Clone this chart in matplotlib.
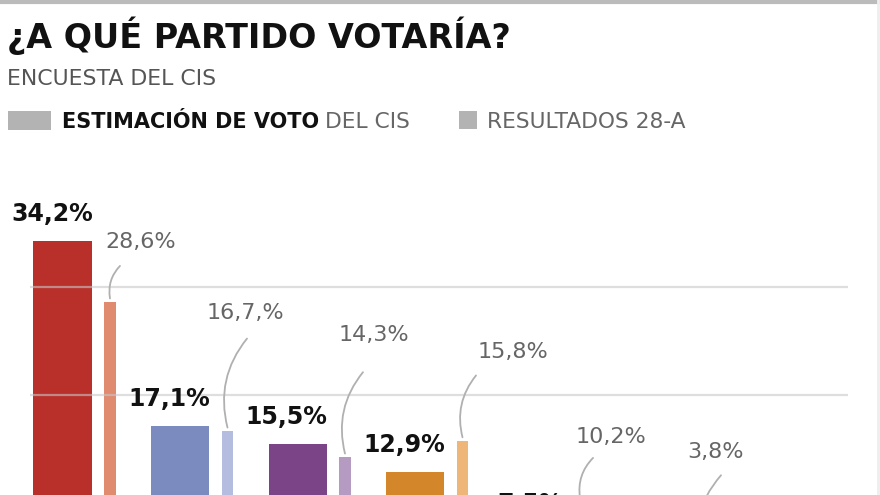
import numpy as np
import matplotlib
matplotlib.use('Agg')
import matplotlib.pyplot as plt
from matplotlib.patches import Rectangle

plt.rcParams['font.family'] = ['DejaVu Sans']

# datos
partidos = ['PSOE', 'PP', 'UP', 'Cs', 'Vox', 'ERC']
estimacion = [34.2, 17.1, 15.5, 12.9, 7.5, 3.0]
resultados = [28.6, 16.7, 14.3, 15.8, 10.2, 3.8]
etiquetas_est = ['34,2%', '17,1%', '15,5%', '12,9%', '7,5%', '3,0%']
etiquetas_res = ['28,6%', '16,7,%', '14,3%', '15,8%', '10,2%', '3,8%']

col_est = ['#b92f2a', '#7b8bbf', '#7b4487', '#d4862b', '#5f9e44', '#e6b93a']
col_res = ['#e08a70', '#b4bddf', '#b59bc1', '#efb679', '#a9d08e', '#f1d98a']

# posicion de las etiquetas de resultados (desplazamiento respecto a la barra)
lab_dx = [0.26, 0.15, 0.25, 0.43, 0.26, 0.15]
lab_dy = [5.5, 10.9, 11.2, 8.2, 5.9, 10.9]
lead_dx = [0.085, 0.166, 0.153, 0.115, 0.111, 0.20]
lead_dy = [3.3, 8.5, 7.8, 6.0, 4.0, 8.8]

W, H = 880, 495
fig = plt.figure(figsize=(W / 100, H / 100), dpi=100)
fig.patch.set_facecolor('white')


def fy(px):
    return 1 - px / H


def fx(px):
    return px / W


# cabecera
fig.text(fx(7), fy(48), '¿A QUÉ PARTIDO VOTARÍA?', fontsize=24, fontweight='bold',
         color='#111111', va='baseline')
fig.text(fx(7), fy(85), 'ENCUESTA DEL CIS', fontsize=15.8, color='#555555', va='baseline')

fig.patches.append(Rectangle((fx(8), fy(130)), fx(43), 19 / H, transform=fig.transFigure,
                             color='#b3b3b3', lw=0))
t1 = fig.text(fx(62), fy(128), 'ESTIMACIÓN DE VOTO', fontsize=15, fontweight='bold',
              color='#111111', va='baseline')
fig.canvas.draw()
bb = t1.get_window_extent()
fig.text(bb.x1 / W + fx(6), fy(128), 'DEL CIS', fontsize=15.7, color='#666666', va='baseline')

fig.patches.append(Rectangle((fx(459), fy(129)), fx(18), 18 / H, transform=fig.transFigure,
                             color='#b3b3b3', lw=0))
fig.text(fx(487), fy(128), 'RESULTADOS 28-A', fontsize=15.7, color='#666666', va='baseline')

# borde superior y derecho
fig.add_artist(plt.Line2D([0, 1], [fy(1.5), fy(1.5)], color='#bbbbbb', lw=3))
fig.add_artist(plt.Line2D([fx(878), fx(878)], [0, 1], color='#eeeeee', lw=2))

# grafico
ax = fig.add_axes([0, 0, 1, (H - 180) / H])
ax.set_xlim(-0.532, 6.957)
ax.set_ylim(10.78, 39.82)
ax.axis('off')

x = np.arange(len(partidos))
w_big, w_small, off = 0.494, 0.098, 0.404

ax.bar(x, estimacion, width=w_big, color=col_est, zorder=2)
ax.bar(x + off, resultados, width=w_small, color=col_res, zorder=2)

for g in [10, 20, 30]:
    ax.hlines(g, -0.277, 6.685, color='#c8c8c8', lw=1.6, alpha=0.6, zorder=3)

for i in range(len(partidos)):
    ax.text(x[i] + w_big / 2 + 0.01, estimacion[i] + 1.85, etiquetas_est[i],
            ha='right', va='baseline', fontsize=17, fontweight='bold', color='#111111')
    xs = x[i] + off
    ax.text(xs + lab_dx[i], resultados[i] + lab_dy[i], etiquetas_res[i],
            ha='center', va='center', fontsize=16, color='#666666')
    ax.annotate('', xy=(xs, resultados[i] + 0.3),
                xytext=(xs + lead_dx[i], resultados[i] + lead_dy[i]),
                annotation_clip=False,
                arrowprops=dict(arrowstyle='-', color='#b0b0b0', lw=1.3,
                                connectionstyle='arc3,rad=0.25', shrinkA=0, shrinkB=0))

fig.savefig('out.png', dpi=100, facecolor='white')
